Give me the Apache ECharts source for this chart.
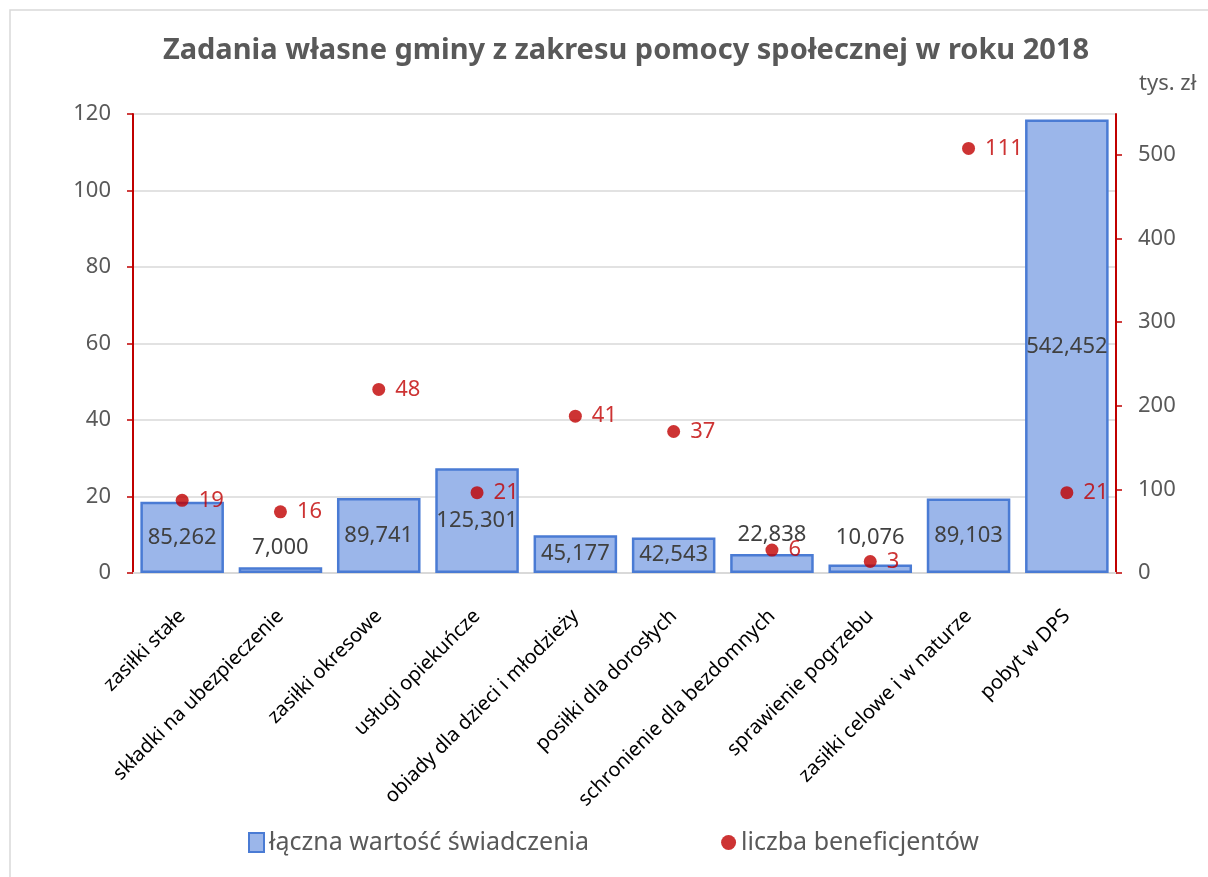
<!DOCTYPE html>
<html lang="pl">
<head>
<meta charset="UTF-8">
<title>Zadania własne gminy</title>
<script src="https://cdn.jsdelivr.net/npm/echarts@6/dist/echarts.min.js"></script>
<style>
    html, body { margin: 0; padding: 0; background: #fff; }
    #main { width: 1208px; height: 877px; }
</style>
</head>
<body>
<div id="main"></div>
<script>
    // kategorie świadczeń
    var categories = ['zasiłki stałe', 'składki na ubezpieczenie', 'zasiłki okresowe', 'usługi opiekuńcze',
        'obiady dla dzieci i młodzieży', 'posiłki dla dorosłych', 'schronienie dla bezdomnych',
        'sprawienie pogrzebu', 'zasiłki celowe i w naturze', 'pobyt w DPS'];
    // łączna wartość świadczenia (zł)
    var amounts = [85262, 7000, 89741, 125301, 45177, 42543, 22838, 10076, 89103, 542452];
    // liczba beneficjentów
    var beneficiaries = [19, 16, 48, 21, 41, 37, 6, 3, 111, 21];
    var rightTicks = [0, 100000, 200000, 300000, 400000, 500000];

    var red = '#c00000';
    var font = 'Noto Sans';

    var chart = echarts.init(document.getElementById('main'));

    var option = {
        textStyle: { fontFamily: font },
        title: {
            text: 'Zadania własne gminy z zakresu pomocy społecznej w roku 2018',
            left: 621,
            top: 31,
            textAlign: 'center',
            textStyle: { fontSize: 29, fontWeight: 'bold', color: '#595959', fontFamily: font }
        },
        graphic: [
            {   // ramka wykresu
                type: 'rect', silent: true, z: -1,
                shape: { x: 10, y: 10, width: 1220, height: 900 },
                style: { fill: null, stroke: '#d9d9d9', lineWidth: 1.5 }
            },
            {
                type: 'text', left: 1139, top: 73,
                style: { text: 'tys. zł', fontSize: 22, fill: '#595959', fontFamily: font }
            }
        ],
        legend: {
            left: 243,
            top: 825,
            itemGap: 132,
            itemWidth: 15,
            itemHeight: 19,
            textStyle: { fontSize: 25, color: '#595959', fontFamily: font },
            data: [
                { name: 'łączna wartość świadczenia', icon: 'rect' },
                { name: 'liczba beneficjentów', icon: 'circle' }
            ]
        },
        grid: { left: 133, right: 92, top: 114, bottom: 304 },
        xAxis: {
            type: 'category',
            data: categories,
            axisLine: { lineStyle: { color: '#d9d9d9', width: 2 } },
            axisTick: { show: false },
            axisLabel: {
                interval: 0, rotate: 45, margin: 40,
                fontSize: 20, color: '#000', fontFamily: font
            }
        },
        yAxis: [
            {
                type: 'value', min: 0, max: 120, interval: 20,
                axisLine: { show: true, lineStyle: { color: red, width: 2 } },
                axisTick: { show: true, length: 6, lineStyle: { color: red, width: 1.5 } },
                axisLabel: { fontSize: 22, color: '#595959', margin: 22, fontFamily: font },
                splitLine: { lineStyle: { color: '#d9d9d9', width: 1.5 } }
            },
            {
                type: 'value', min: 0, max: 549000, interval: 100000,
                position: 'right',
                axisLine: { show: true, lineStyle: { color: red, width: 2 } },
                axisTick: { show: true, length: 6, customValues: rightTicks, lineStyle: { color: red, width: 1.5 } },
                axisLabel: {
                    fontSize: 22, color: '#595959', margin: 22, fontFamily: font,
                    customValues: rightTicks,
                    formatter: function (v) { return v / 1000; }
                },
                splitLine: { show: false }
            }
        ],
        series: [
            {
                name: 'łączna wartość świadczenia',
                type: 'bar',
                yAxisIndex: 1,
                barCategoryGap: '15%',
                itemStyle: { color: '#9bb6ea', borderColor: '#4a7bd4', borderWidth: 2.5 },
                label: {
                    show: true,
                    fontSize: 22, color: '#404040', fontFamily: font,
                    formatter: function (p) { return p.value.toLocaleString('en-US'); }
                },
                data: amounts.map(function (v) {
                    return { value: v, label: { position: v < 30000 ? 'top' : 'inside', distance: v < 15000 && v > 8000 ? 16 : 8 } };
                })
            },
            {
                name: 'liczba beneficjentów',
                type: 'scatter',
                yAxisIndex: 0,
                symbolSize: 13,
                itemStyle: { color: red },
                label: {
                    show: true, position: 'right', distance: 10,
                    fontSize: 22, color: red, fontFamily: font
                },
                data: beneficiaries
            }
        ]
    };

    chart.setOption(option);
</script>
</body>
</html>
